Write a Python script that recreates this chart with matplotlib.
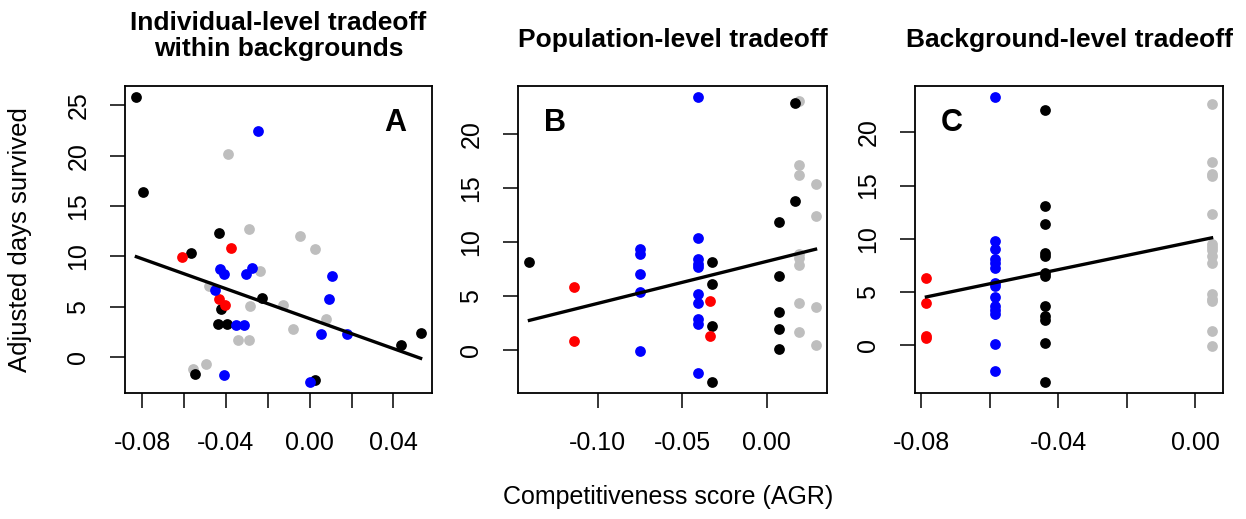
import numpy as np
import matplotlib.pyplot as plt

plt.rcParams['font.family'] = ['Liberation Sans', 'DejaVu Sans']

# Panel A: individual-level (within backgrounds)
a_black_x = [-0.0827, -0.0797, -0.0566, -0.0434, -0.0228, -0.0425, -0.0438, -0.0395, 0.0435, 0.0530, -0.0549, 0.0024]
a_black_y = [25.8, 16.4, 10.3, 12.35, 5.9, 4.75, 3.3, 3.3, 1.2, 2.35, -1.7, -2.3]
a_red_x = [-0.0608, -0.0374, -0.0434, -0.0406]
a_red_y = [9.9, 10.8, 5.8, 5.15]
a_blue_x = [-0.0247, -0.0426, -0.0409, -0.0304, -0.0275, -0.0450, 0.0109, 0.0093, 0.0055, 0.0178, -0.0352, -0.0312, -0.0410, 0.0003]
a_blue_y = [22.5, 8.7, 8.2, 8.2, 8.8, 6.7, 8.05, 5.8, 2.3, 2.3, 3.2, 3.2, -1.76, -2.45]
a_gray_x = [-0.0390, -0.0288, -0.0046, 0.0024, -0.0236, -0.0480, -0.0283, -0.0127, 0.0079, -0.0080, -0.0342, -0.0288, -0.0557, -0.0496]
a_gray_y = [20.2, 12.75, 12.05, 10.7, 8.55, 7.1, 5.05, 5.2, 3.75, 2.75, 1.65, 1.65, -1.15, -0.73]
a_fit = (3.81, -74.4)  # intercept, slope

# Panel B: population-level
b_black_x = [-0.1404, -0.0325, -0.0325, -0.0325, -0.0325, 0.0069, 0.0069, 0.0069, 0.0069, 0.0069, 0.0164, 0.0164]
b_black_y = [8.15, 8.15, 6.12, 2.25, -2.9, 11.85, 6.83, 3.54, 2.0, 0.09, 22.86, 13.8]
b_red_x = [-0.1138, -0.1138, -0.0337, -0.0337]
b_red_y = [5.88, 0.86, 4.52, 1.32]
b_blue_x = [-0.0751] * 5 + [-0.0408] * 10
b_blue_y = [9.38, 8.92, 7.08, 5.42, -0.06, 23.4, 10.37, 8.4, 8.0, 7.7, 5.17, 4.4, 2.86, 2.46, -2.06]
b_gray_x = [0.0191] * 8 + [0.0288] * 4
b_gray_y = [23.1, 17.1, 16.2, 8.9, 8.5, 7.85, 4.34, 1.7, 15.4, 12.4, 4.0, 0.52]
b_fit = (8.23, 38.9)

# Panel C: background-level
c_black_x = [-0.0440] * 12
c_black_y = [22.08, 13.05, 11.38, 8.68, 8.36, 6.76, 6.5, 3.65, 2.74, 2.36, 0.19, -3.46]
c_red_x = [-0.0785] * 4
c_red_y = [6.26, 3.9, 0.82, 0.63]
c_blue_x = [-0.0584] * 14
c_blue_y = [23.3, 9.78, 9.0, 8.05, 7.67, 7.23, 5.82, 5.53, 4.47, 3.62, 3.24, 2.86, 0.06, -2.48]
c_gray_x = [0.0047] * 15
c_gray_y = [22.7, 17.23, 16.1, 15.9, 12.36, 9.53, 9.2, 8.9, 8.4, 7.7, 4.75, 4.34, 4.12, 1.29, -0.06]
c_fit = (9.76, 66.8)

panels = [
    dict(title='Individual-level tradeoff\nwithin backgrounds', letter='A',
         pts=[(a_gray_x, a_gray_y, '#bebebe'), (a_black_x, a_black_y, 'black'),
              (a_red_x, a_red_y, 'red'), (a_blue_x, a_blue_y, 'blue')],
         fit=a_fit, xticks=np.arange(-0.08, 0.041, 0.02),
         xlabels=['-0.08', '', '-0.04', '', '0.00', '', '0.04'],
         yticks=[0, 5, 10, 15, 20, 25], rect=[125, 86, 432, 393], letter_pos=(0.88, 0.88)),
    dict(title='Population-level tradeoff', letter='B',
         pts=[(b_gray_x, b_gray_y, '#bebebe'), (b_black_x, b_black_y, 'black'),
              (b_red_x, b_red_y, 'red'), (b_blue_x, b_blue_y, 'blue')],
         fit=b_fit, xticks=[-0.10, -0.05, 0.00],
         xlabels=['-0.10', '-0.05', '0.00'],
         yticks=[0, 5, 10, 15, 20], rect=[518, 86, 827, 393], letter_pos=(0.12, 0.88)),
    dict(title='Background-level tradeoff', letter='C',
         pts=[(c_gray_x, c_gray_y, '#bebebe'), (c_black_x, c_black_y, 'black'),
              (c_red_x, c_red_y, 'red'), (c_blue_x, c_blue_y, 'blue')],
         fit=c_fit, xticks=np.arange(-0.08, 0.001, 0.02),
         xlabels=['-0.08', '', '-0.04', '', '0.00'],
         yticks=[0, 5, 10, 15, 20], rect=[915, 86, 1223, 393], letter_pos=(0.12, 0.88)),
]

W, H = 1246, 519
fig = plt.figure(figsize=(W / 100, H / 100), dpi=100)

for p in panels:
    l, t, r, b = p['rect']
    ax = fig.add_axes([l / W, 1 - b / H, (r - l) / W, (b - t) / H])
    allx, ally = [], []
    for x, y, c in p['pts']:
        ax.scatter(x, y, s=60, color=c, linewidths=0, zorder=2)
        allx += list(x)
        ally += list(y)
    # R-style 4% axis padding
    x0, x1 = min(allx), max(allx)
    y0, y1 = min(ally), max(ally)
    dx, dy = (x1 - x0) * 0.04, (y1 - y0) * 0.04
    ax.set_xlim(x0 - dx, x1 + dx)
    ax.set_ylim(y0 - dy, y1 + dy)
    xs = np.array([x0, x1])
    ax.plot(xs, p['fit'][0] + p['fit'][1] * xs, color='black', lw=2.4, zorder=3)
    ax.set_xticks(p['xticks'])
    ax.set_xticklabels(p['xlabels'])
    ax.set_yticks(p['yticks'])
    ax.set_yticklabels([str(v) for v in p['yticks']], rotation=90, va='center')
    ax.tick_params(length=11, width=1.1, labelsize=18, pad=16)
    ax.tick_params(axis='y', pad=14)
    for s in ax.spines.values():
        s.set_linewidth(1.3)
    ax.text(*p['letter_pos'], p['letter'], transform=ax.transAxes, fontsize=22,
            fontweight='bold', ha='center', va='center')
    cx = (l + r) / 2 / W
    ty = 1 - (36 if '\n' in p['title'] else 40) / H
    fig.text(cx, ty, p['title'], ha='center', va='center', fontsize=19,
             fontweight='bold', linespacing=1.08)

fig.text(668 / W, 1 - 497 / H, 'Competitiveness score (AGR)', ha='center', va='center', fontsize=18)
fig.text(20 / W, 1 - 240 / H, 'Adjusted days survived', ha='center', va='center',
         fontsize=18.5, rotation=90)

fig.savefig('out.png', dpi=100)
